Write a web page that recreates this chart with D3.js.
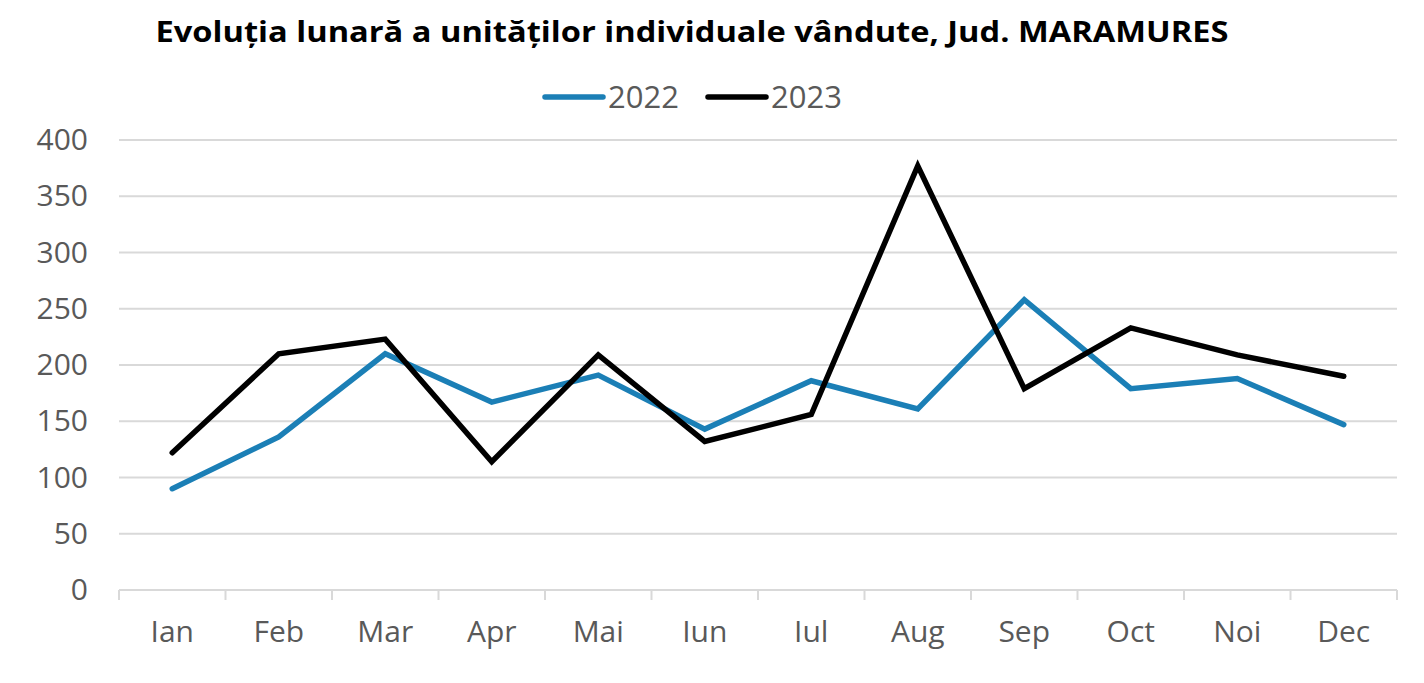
<!DOCTYPE html>
<html>
  <head>
    <meta charset="utf-8" />
    <title>Evoluția lunară a unităților individuale vândute</title>
    <script src="https://d3js.org/d3.v7.min.js"></script>
    <style>
      body { margin: 0; background: #fff; }
      text { font-family: "Open Sans", "Noto Sans", sans-serif; }
    </style>
  </head>
  <body>
    <div id="chart"></div>
    <script type="text/javascript">
      // data
      var months = ["Ian", "Feb", "Mar", "Apr", "Mai", "Iun", "Iul", "Aug", "Sep", "Oct", "Noi", "Dec"];
      var values2022 = [90, 136, 210, 167, 191, 143, 186, 161, 258, 179, 188, 147];
      var values2023 = [122, 210, 223, 114, 209, 132, 156, 377, 179, 233, 209, 190];
      var yTicks = [0, 50, 100, 150, 200, 250, 300, 350, 400];
      var seriesNames = ["2022", "2023"];
      var seriesColors = ["#1b7fb6", "#000000"];

      var width = 1424;
      var height = 683;
      var margin = { top: 140, right: 27, bottom: 93, left: 119 };

      var svg = d3
        .select("#chart")
        .append("svg")
        .attr("width", width)
        .attr("height", height);

      var x = d3
        .scaleBand()
        .domain(months)
        .range([margin.left, width - margin.right]);

      var y = d3
        .scaleLinear()
        .domain([0, 400])
        .range([height - margin.bottom, margin.top]);

      // gridlines
      svg
        .append("g")
        .selectAll("line")
        .data(yTicks.slice(1))
        .enter()
        .append("line")
        .attr("x1", margin.left)
        .attr("x2", width - margin.right)
        .attr("y1", function (d) { return y(d); })
        .attr("y2", function (d) { return y(d); })
        .attr("stroke", "#d9d9d9")
        .attr("stroke-width", 2);

      // y axis labels
      var yAxis = d3.axisLeft(y).tickValues(yTicks).tickSize(0).tickPadding(31);
      var gy = svg
        .append("g")
        .attr("transform", "translate(" + margin.left + ",0)")
        .call(yAxis);
      gy.select(".domain").remove();
      gy.selectAll("text")
        .attr("fill", "#595959")
        .style("font-size", "30px")
        .style("font-family", "'Open Sans', sans-serif");

      // x axis with ticks between categories
      var gx = svg
        .append("g")
        .attr("transform", "translate(0," + (height - margin.bottom) + ")");
      gx.append("line")
        .attr("x1", margin.left)
        .attr("x2", width - margin.right)
        .attr("stroke", "#d9d9d9")
        .attr("stroke-width", 2);
      var edges = months.map(function (m) { return x(m); }).concat([width - margin.right]);
      gx.selectAll(".tk")
        .data(edges)
        .enter()
        .append("line")
        .attr("class", "tk")
        .attr("x1", function (d) { return d; })
        .attr("x2", function (d) { return d; })
        .attr("y1", 0)
        .attr("y2", 10)
        .attr("stroke", "#d9d9d9")
        .attr("stroke-width", 2);
      gx.selectAll(".lbl")
        .data(months)
        .enter()
        .append("text")
        .attr("class", "lbl")
        .attr("x", function (d) { return x(d) + x.bandwidth() / 2; })
        .attr("y", 52)
        .attr("text-anchor", "middle")
        .attr("fill", "#595959")
        .style("font-size", "30px")
        .text(function (d) { return d; });

      // lines
      var line = d3
        .line()
        .x(function (d, i) { return x(months[i]) + x.bandwidth() / 2; })
        .y(function (d) { return y(d); });

      [values2022, values2023].forEach(function (vals, i) {
        svg
          .append("path")
          .datum(vals)
          .attr("fill", "none")
          .attr("stroke", seriesColors[i])
          .attr("stroke-width", 5.5)
          .attr("stroke-linejoin", "miter")
          .attr("stroke-linecap", "round")
          .attr("d", line);
      });

      // title
      svg
        .append("text")
        .attr("x", 692)
        .attr("y", 42)
        .attr("text-anchor", "middle")
        .attr("textLength", 1073)
        .attr("lengthAdjust", "spacingAndGlyphs")
        .style("font-size", "29px")
        .style("font-weight", "bold")
        .attr("fill", "#000")
        .text("Evoluția lunară a unităților individuale vândute, Jud. MARAMURES");

      // legend
      var legendX = [545, 708];
      var legend = svg
        .append("g")
        .selectAll("g")
        .data(seriesNames)
        .enter()
        .append("g")
        .attr("transform", function (d, i) { return "translate(" + legendX[i] + ",97)"; });
      legend
        .append("line")
        .attr("x1", 0)
        .attr("x2", 58)
        .attr("stroke", function (d, i) { return seriesColors[i]; })
        .attr("stroke-width", 5.5)
        .attr("stroke-linecap", "round");
      legend
        .append("text")
        .attr("x", 63)
        .attr("y", 11)
        .attr("fill", "#595959")
        .style("font-size", "31px")
        .text(function (d) { return d; });
    </script>
  </body>
</html>
